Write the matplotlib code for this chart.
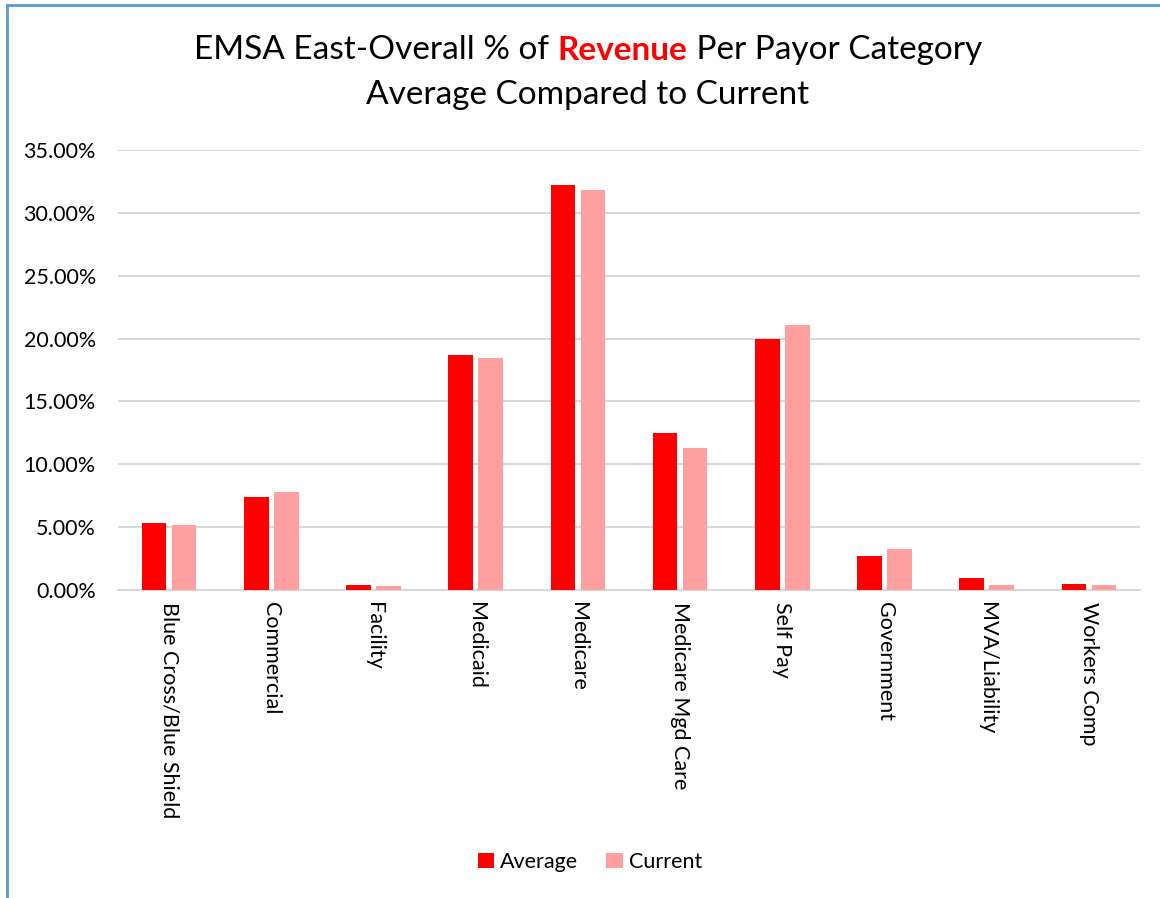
import numpy as np
import matplotlib.pyplot as plt
from matplotlib.ticker import FuncFormatter

categories = ['Blue Cross/Blue Shield', 'Commercial', 'Facility', 'Medicaid', 'Medicare',
              'Medicare Mgd Care', 'Self Pay', 'Government', 'MVA/Liability', 'Workers Comp']
average = [5.30, 7.40, 0.37, 18.70, 32.20, 12.50, 20.00, 2.73, 0.93, 0.50]
current = [5.17, 7.82, 0.29, 18.46, 31.80, 11.30, 21.08, 3.24, 0.37, 0.37]

avg_color = '#FF0000'
cur_color = '#FF9FA0'
font = 'Lato'

fig = plt.figure(figsize=(11.6, 8.98), dpi=100)
ax = fig.add_axes([118 / 1160, 1 - 590 / 898, (1140 - 118) / 1160, 440 / 898])

x = np.arange(len(categories))
w = 0.24
ax.bar(x - 0.147, average, w, color=avg_color, label='Average', zorder=3)
ax.bar(x + 0.147, current, w, color=cur_color, label='Current', zorder=3)

ax.set_xlim(-0.5, len(categories) - 0.5)
ax.set_ylim(0, 35)
ax.set_yticks(np.arange(0, 36, 5))
ax.yaxis.set_major_formatter(FuncFormatter(lambda v, p: f'{v:.2f}%'))
ax.grid(axis='y', color='#D9D9D9', linewidth=1.5, zorder=0)
for s in ['top', 'right', 'left']:
    ax.spines[s].set_visible(False)
ax.spines['bottom'].set_color('#D9D9D9')
ax.spines['bottom'].set_linewidth(1.5)
ax.tick_params(axis='both', length=0, labelsize=15.5)
ax.tick_params(axis='y', pad=16)
ax.tick_params(axis='x', pad=9)
ax.set_xticks(x)
ax.set_xticklabels(categories, rotation=270, fontfamily=font, va='top', ha='center')
for lab in ax.get_yticklabels():
    lab.set_fontfamily(font)

leg = fig.legend(loc='center', bbox_to_anchor=(590 / 1160, 1 - 862 / 898), ncol=2,
                 frameon=False, prop={'family': font, 'size': 15.5},
                 handlelength=0.75, handleheight=0.75, columnspacing=1.3, handletextpad=0.3)

# title, with "Revenue" in bold red
fig.canvas.draw()
r = fig.canvas.get_renderer()
tsize = 24
parts = [('EMSA East-Overall % of ', 'black', 'normal'),
         ('Revenue', avg_color, 'bold'),
         (' Per Payor Category', 'black', 'normal')]
texts = []
total = 0
for s, c, wt in parts:
    t = fig.text(0, 1 - 50 / 898, s, color=c, fontweight=wt, fontsize=tsize,
                 fontfamily=font, va='center', ha='left')
    bb = t.get_window_extent(r)
    texts.append((t, bb.width))
    total += bb.width
xpos = 588 - total / 2
for t, wd in texts:
    t.set_x(xpos / 1160)
    xpos += wd
fig.text(588 / 1160, 1 - 95 / 898, 'Average Compared to Current', fontsize=tsize,
         fontfamily=font, ha='center', va='center')

# chart border (blue)
fig.add_artist(plt.Line2D([7 / 1160, 7 / 1160], [0, 1 - 5 / 898], color='#5B9BD5', linewidth=2))
fig.add_artist(plt.Line2D([7 / 1160, 1], [1 - 5 / 898, 1 - 5 / 898], color='#5B9BD5', linewidth=2))

fig.savefig('out.png', dpi=100)
